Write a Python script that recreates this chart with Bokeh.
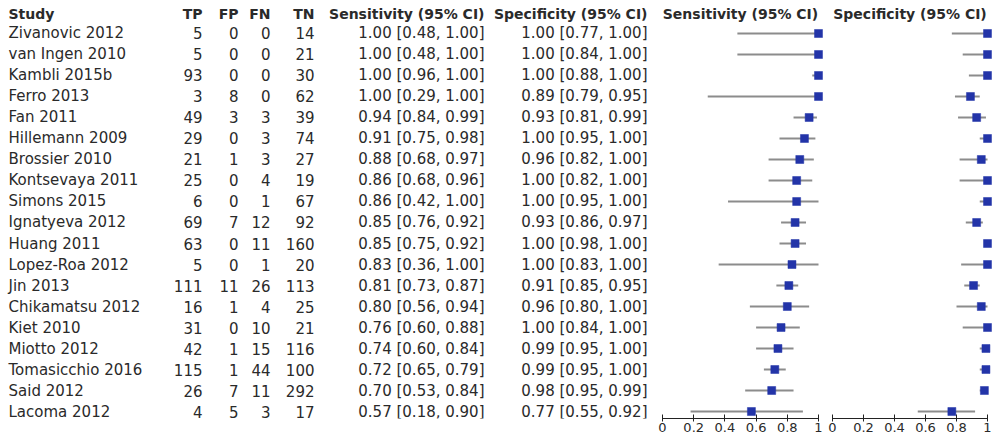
from bokeh.plotting import figure
from bokeh.models import Range1d, ColumnDataSource, FixedTicker
from bokeh.layouts import row
from bokeh.embed import file_html
from bokeh.resources import INLINE
from bokeh.core.properties import value

# ---------------- data ----------------
studies = ["Zivanovic 2012", "van Ingen 2010", "Kambli 2015b", "Ferro 2013", "Fan 2011",
           "Hillemann 2009", "Brossier 2010", "Kontsevaya 2011", "Simons 2015", "Ignatyeva 2012",
           "Huang 2011", "Lopez-Roa 2012", "Jin 2013", "Chikamatsu 2012", "Kiet 2010",
           "Miotto 2012", "Tomasicchio 2016", "Said 2012", "Lacoma 2012"]
tp = [5, 5, 93, 3, 49, 29, 21, 25, 6, 69, 63, 5, 111, 16, 31, 42, 115, 26, 4]
fp = [0, 0, 0, 8, 3, 0, 1, 0, 0, 7, 0, 0, 11, 1, 0, 1, 1, 7, 5]
fn = [0, 0, 0, 0, 3, 3, 3, 4, 1, 12, 11, 1, 26, 4, 10, 15, 44, 11, 3]
tn = [14, 21, 30, 62, 39, 74, 27, 19, 67, 92, 160, 20, 113, 25, 21, 116, 100, 292, 17]
sens = [1.00, 1.00, 1.00, 1.00, 0.94, 0.91, 0.88, 0.86, 0.86, 0.85, 0.85, 0.83, 0.81, 0.80, 0.76, 0.74, 0.72, 0.70, 0.57]
sens_lo = [0.48, 0.48, 0.96, 0.29, 0.84, 0.75, 0.68, 0.68, 0.42, 0.76, 0.75, 0.36, 0.73, 0.56, 0.60, 0.60, 0.65, 0.53, 0.18]
sens_hi = [1.00, 1.00, 1.00, 1.00, 0.99, 0.98, 0.97, 0.96, 1.00, 0.92, 0.92, 1.00, 0.87, 0.94, 0.88, 0.84, 0.79, 0.84, 0.90]
spec = [1.00, 1.00, 1.00, 0.89, 0.93, 1.00, 0.96, 1.00, 1.00, 0.93, 1.00, 1.00, 0.91, 0.96, 1.00, 0.99, 0.99, 0.98, 0.77]
spec_lo = [0.77, 0.84, 0.88, 0.79, 0.81, 0.95, 0.82, 0.82, 0.95, 0.86, 0.98, 0.83, 0.85, 0.80, 0.84, 0.95, 0.95, 0.95, 0.55]
spec_hi = [1.00, 1.00, 1.00, 0.95, 0.99, 1.00, 1.00, 1.00, 1.00, 0.97, 1.00, 1.00, 0.95, 1.00, 1.00, 1.00, 1.00, 0.99, 0.92]
headers = ["Study", "TP", "FP", "FN", "TN", "Sensitivity (95% CI)", "Specificity (95% CI)"]
tick_values = [0, 0.2, 0.4, 0.6, 0.8, 1]
tick_labels = ["0", "0.2", "0.4", "0.6", "0.8", "1"]

# ---------------- style / layout ----------------
FONT = "DejaVu Sans"
TXT = "#2a2a2a"
BODY_SIZE = "15px"
HEAD_SIZE = "14px"
CI_COLOR = "#8c8c8c"
SQ_COLOR = "#2334a8"
FRAME_H = 418
BOTTOM = 20
ROW_TOP = -1.571
ROW_BOT = 18.333
HEAD_Y = -0.95

n = len(studies)
rows = list(range(n))


def ci_text(v, lo, hi):
    return [f"{a:.2f} [{b:.2f}, {c:.2f}]" for a, b, c in zip(v, lo, hi)]


src = ColumnDataSource(dict(
    y=rows, study=studies,
    tp=[str(v) for v in tp], fp=[str(v) for v in fp],
    fn=[str(v) for v in fn], tn=[str(v) for v in tn],
    sens_txt=ci_text(sens, sens_lo, sens_hi),
    spec_txt=ci_text(spec, spec_lo, spec_hi),
    sens=sens, sens_lo=sens_lo, sens_hi=sens_hi,
    spec=spec, spec_lo=spec_lo, spec_hi=spec_hi,
))


def base_fig(fw, xr):
    f = figure(frame_width=fw, frame_height=FRAME_H, x_range=xr,
               y_range=Range1d(ROW_BOT, ROW_TOP),
               output_backend="svg", toolbar_location=None,
               min_border_left=0, min_border_right=0, min_border_top=0,
               min_border_bottom=BOTTOM, y_axis_location=None)
    f.xgrid.visible = False
    f.ygrid.visible = False
    f.outline_line_color = None
    f.background_fill_color = "white"
    f.border_fill_color = "white"
    return f


# ---- table figure (x in pixel units) ----
TW = 655
pt = base_fig(TW, Range1d(0, TW))
pt.xaxis.visible = False

cols = [("study", 8, "left"), ("tp", 202, "right"), ("fp", 238, "right"),
        ("fn", 270, "right"), ("tn", 314, "right"),
        ("sens_txt", 484, "right"), ("spec_txt", 647, "right")]
for (field, xpos, align), head in zip(cols, headers):
    pt.text(x=xpos, y="y", text=field, source=src, text_align=align,
            text_baseline="middle", text_font=value(FONT),
            text_font_size=value(BODY_SIZE), text_color=TXT)
    pt.text(x=[xpos], y=[HEAD_Y], text=[head], text_align=align,
            text_baseline="middle", text_font=value(FONT),
            text_font_size=value(HEAD_SIZE), text_font_style="bold", text_color=TXT)


# ---- forest figures ----
def forest(fw, x0off, scale, est, lo, hi, title):
    xr = Range1d(-x0off / scale, (fw - x0off) / scale)
    f = base_fig(fw, xr)
    f.segment(x0=lo, x1=hi, y0="y", y1="y", source=src,
              line_color=CI_COLOR, line_width=2)
    f.scatter(x=est, y="y", source=src, marker="square", size=8,
              fill_color=SQ_COLOR, line_color=SQ_COLOR, line_width=0.5)
    f.text(x=[0.5], y=[HEAD_Y], text=[title], text_align="center",
           text_baseline="middle", text_font=value(FONT),
           text_font_size=value(HEAD_SIZE), text_font_style="bold", text_color=TXT)
    ax = f.xaxis[0]
    ax.ticker = FixedTicker(ticks=tick_values)
    ax.major_label_overrides = {t: l for t, l in zip(tick_values, tick_labels)}
    ax.bounds = (0, 1)
    ax.minor_tick_line_color = None
    ax.major_tick_in = 4
    ax.major_tick_out = 3
    ax.axis_line_color = "#222222"
    ax.major_tick_line_color = "#222222"
    ax.major_label_standoff = 1
    ax.major_label_text_font = FONT
    ax.major_label_text_font_size = "13px"
    ax.major_label_text_color = TXT
    return f


ps = forest(170, 7, 156, "sens", "sens_lo", "sens_hi", headers[5])
pc = forest(171, 7, 155, "spec", "spec_lo", "spec_hi", headers[6])

layout = row(pt, ps, pc, spacing=0)

open("out.html", "w").write(file_html(layout, INLINE))
